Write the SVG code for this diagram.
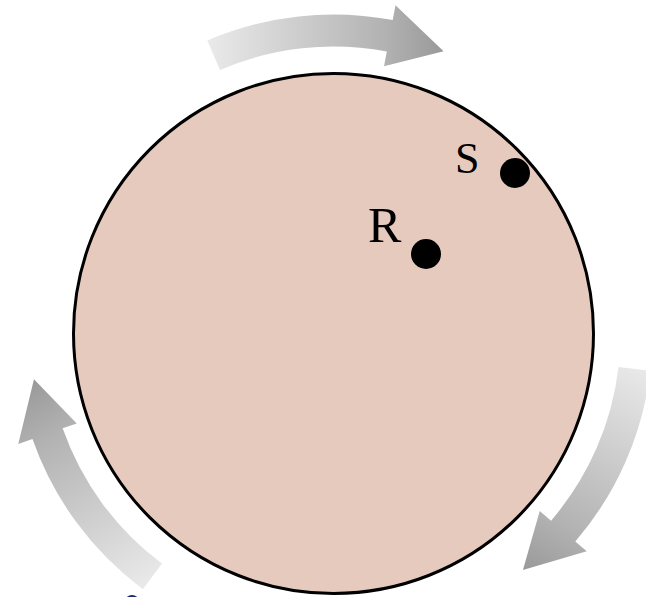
<svg xmlns="http://www.w3.org/2000/svg" xmlns:xlink="http://www.w3.org/1999/xlink" width="646" height="597" viewBox="0 0 646 597">
  <style>
    .disk { fill: #e6cabe; stroke: #000; stroke-width: 3; }
    .dot { fill: #000; }
    .lbl { font-family: "Liberation Serif", "Times New Roman", serif; fill: #000; }
    .arrow { fill: url(#grad); }
  </style>
  <defs>
    <linearGradient id="grad" gradientUnits="userSpaceOnUse" x1="207" y1="40" x2="444" y2="40">
      <stop offset="0" stop-color="#eaeaea"/>
      <stop offset="0.75" stop-color="#b2b2b2"/>
      <stop offset="1" stop-color="#999999"/>
    </linearGradient>
    <path id="arr" class="arrow" d="M 207.3 40.5 A 319 319 0 0 1 392.7 20.1 L 395.5 5.3 L 443.6 51.2 L 384.0 66.2 L 386.8 51.5 A 287 287 0 0 0 220.0 69.9 Z"/>
  </defs>
  <rect width="646" height="597" fill="#ffffff"/>
  <g id="connectors">
    <use xlink:href="#arr" href="#arr"/>
    <use xlink:href="#arr" href="#arr" transform="rotate(120 333.5 333.5)"/>
    <use xlink:href="#arr" href="#arr" transform="rotate(240 333.5 333.5)"/>
  </g>
  <g id="body">
    <circle class="disk" cx="333.5" cy="333.5" r="260"/>
  </g>
  <g id="node-S">
    <circle class="dot" cx="515" cy="173" r="15"/>
    <text class="lbl" x="455" y="173" font-size="44">S</text>
  </g>
  <g id="node-R">
    <circle class="dot" cx="426" cy="254" r="15"/>
    <text class="lbl" x="368" y="242" font-size="50">R</text>
  </g>
  <g id="fragment">
    <ellipse cx="132" cy="601" rx="6" ry="5" fill="none" stroke="#1c2a66" stroke-width="2"/>
  </g>
</svg>
